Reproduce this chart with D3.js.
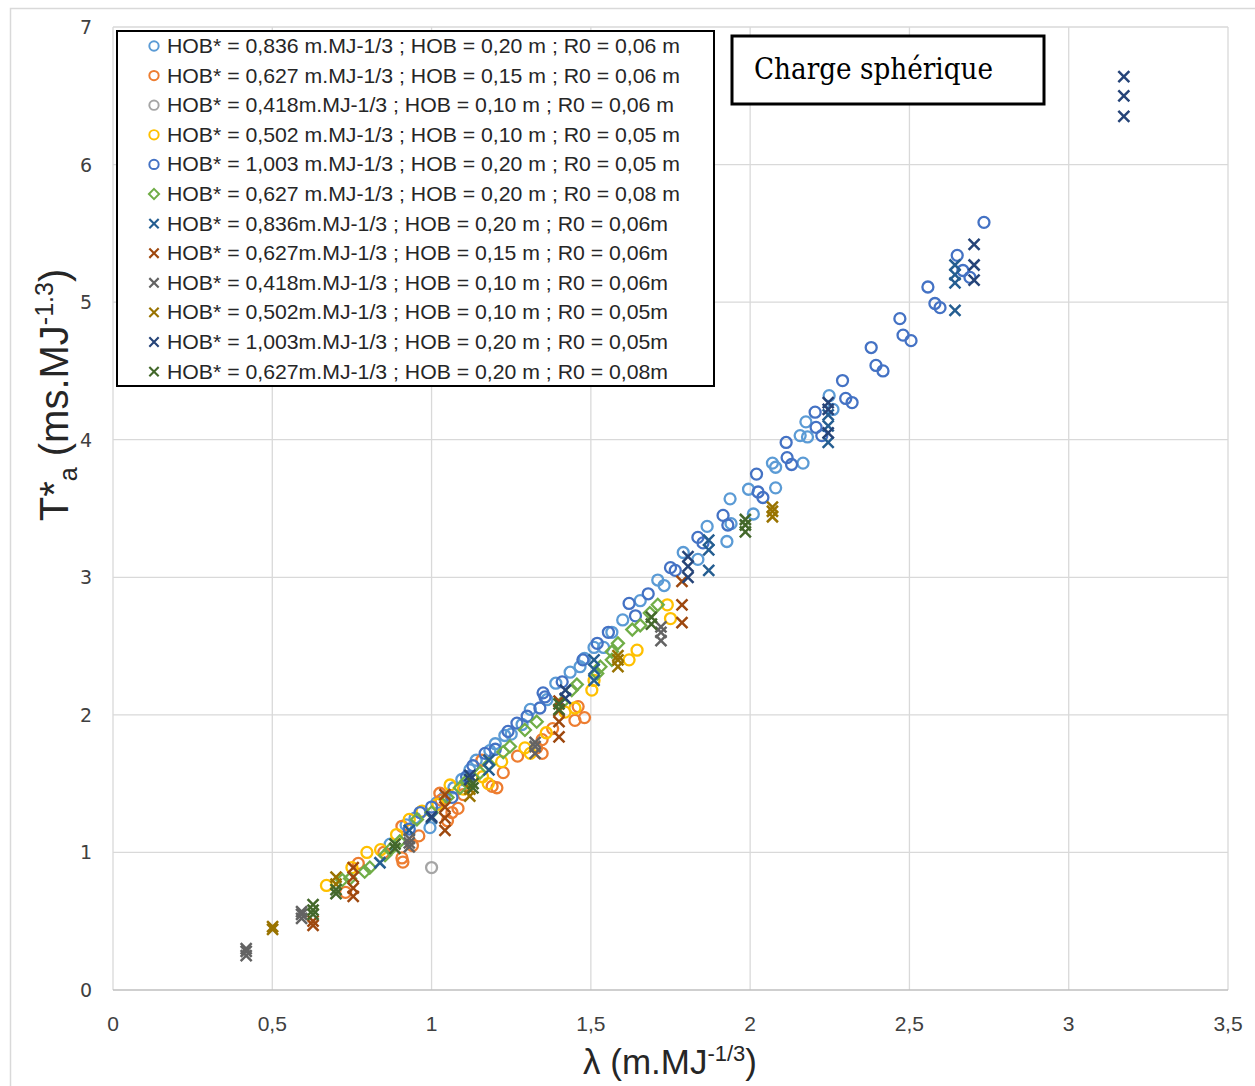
<!DOCTYPE html>
<html>
<head>
<meta charset="utf-8">
<script src="https://cdn.jsdelivr.net/npm/d3@7"></script>
<style>
  body { margin: 0; background: #fff; }
  svg { display: block; }
</style>
</head>
<body>
<svg id="chart" width="1255" height="1086"></svg>
<script>
// series values, [lambda, T*a]
const s1 = [[0.87,1.06],[0.92,1.2],[0.948,1.25],[0.995,1.18],[1.016,1.36],[1.04,1.40],[1.07,1.47],[1.095,1.53],[1.12,1.60],[1.14,1.67],[1.183,1.74],[1.2,1.79],[1.23,1.85],[1.25,1.86],[1.284,1.93],[1.31,2.04],[1.362,2.11],[1.39,2.23],[1.435,2.31],[1.466,2.35],[1.48,2.41],[1.51,2.49],[1.54,2.49],[1.566,2.60],[1.60,2.69],[1.655,2.83],[1.71,2.98],[1.73,2.94],[1.79,3.18],[1.836,3.13],[1.865,3.37],[1.927,3.26],[1.937,3.57],[1.94,3.39],[1.995,3.64],[2.01,3.46],[2.07,3.83],[2.08,3.80],[2.08,3.65],[2.166,3.83],[2.175,4.13],[2.157,4.03],[2.18,4.02],[2.248,4.32],[2.26,4.22]];
const s2 = [[0.73,0.71],[0.77,0.92],[0.85,1.0],[0.907,0.96],[0.91,0.93],[0.94,1.05],[0.96,1.12],[0.907,1.19],[1.026,1.43],[1.03,1.38],[1.05,1.23],[1.064,1.29],[1.083,1.32],[1.1,1.42],[1.158,1.67],[1.19,1.48],[1.205,1.47],[1.225,1.58],[1.27,1.70],[1.33,1.76],[1.347,1.82],[1.347,1.72],[1.38,1.90],[1.45,1.96],[1.46,2.06],[1.48,1.98]];
const s3 = [[1.0,0.89]];
const s4 = [[0.67,0.76],[0.75,0.89],[0.797,1.0],[0.84,1.02],[0.89,1.13],[0.93,1.24],[0.97,1.30],[1.02,1.35],[1.058,1.49],[1.1,1.46],[1.16,1.55],[1.178,1.50],[1.22,1.66],[1.293,1.76],[1.31,1.72],[1.36,1.87],[1.419,2.02],[1.45,2.05],[1.503,2.18],[1.51,2.25],[1.62,2.40],[1.645,2.47],[1.74,2.80],[1.75,2.70]];
const s5 = [[0.93,1.17],[0.964,1.29],[1.0,1.33],[1.064,1.40],[1.11,1.55],[1.13,1.63],[1.168,1.72],[1.2,1.75],[1.24,1.88],[1.268,1.94],[1.3,1.99],[1.34,2.05],[1.35,2.16],[1.356,2.13],[1.41,2.24],[1.475,2.40],[1.52,2.52],[1.555,2.60],[1.62,2.81],[1.64,2.72],[1.68,2.88],[1.75,3.07],[1.765,3.05],[1.836,3.29],[1.852,3.25],[1.915,3.45],[1.93,3.38],[2.02,3.75],[2.025,3.62],[2.04,3.58],[2.113,3.98],[2.116,3.87],[2.13,3.82],[2.204,4.20],[2.207,4.09],[2.225,4.03],[2.29,4.43],[2.30,4.30],[2.32,4.27],[2.38,4.67],[2.395,4.54],[2.417,4.50],[2.47,4.88],[2.48,4.76],[2.505,4.72],[2.558,5.11],[2.58,4.99],[2.596,4.96],[2.65,5.34],[2.668,5.23],[2.69,5.18],[2.734,5.58]];
const s6 = [[0.72,0.80],[0.744,0.81],[0.79,0.86],[0.806,0.89],[0.854,0.98],[0.87,1.02],[0.9,1.08],[0.954,1.24],[1.0,1.29],[1.05,1.40],[1.089,1.47],[1.11,1.52],[1.152,1.58],[1.18,1.64],[1.225,1.73],[1.246,1.77],[1.293,1.89],[1.33,1.95],[1.41,2.09],[1.44,2.18],[1.456,2.22],[1.52,2.30],[1.53,2.35],[1.566,2.40],[1.566,2.46],[1.585,2.52],[1.63,2.62],[1.655,2.65],[1.685,2.74],[1.71,2.80]];
const s7 = [[0.838,0.925],[0.93,1.16],[1.0,1.25],[1.18,1.60],[1.18,1.67],[1.51,2.25],[1.51,2.33],[1.51,2.40],[1.87,3.05],[1.87,3.20],[1.87,3.27],[2.245,3.98],[2.245,4.10],[2.245,4.18],[2.643,4.94],[2.643,5.14],[2.643,5.20],[2.643,5.27]];
const s8 = [[0.628,0.47],[0.628,0.50],[0.754,0.68],[0.754,0.74],[0.754,0.82],[0.754,0.89],[1.042,1.16],[1.042,1.25],[1.042,1.33],[1.042,1.42],[1.40,1.84],[1.40,1.95],[1.40,2.03],[1.40,2.10],[1.786,2.67],[1.786,2.80],[1.786,2.97]];
const s9 = [[0.418,0.25],[0.418,0.28],[0.418,0.30],[0.592,0.52],[0.592,0.55],[0.592,0.57],[0.93,1.04],[0.93,1.07],[0.93,1.10],[1.325,1.72],[1.325,1.77],[1.325,1.80],[1.72,2.54],[1.72,2.60],[1.72,2.64]];
const s10 = [[0.501,0.44],[0.501,0.46],[0.70,0.77],[0.70,0.82],[1.12,1.41],[1.12,1.46],[1.585,2.35],[1.585,2.40],[1.585,2.43],[2.07,3.44],[2.07,3.48],[2.07,3.51]];
const s11 = [[1.0,1.26],[1.12,1.53],[1.12,1.56],[1.42,2.12],[1.42,2.18],[1.805,3.0],[1.805,3.08],[1.805,3.15],[2.245,4.05],[2.245,4.22],[2.245,4.27],[2.703,5.16],[2.703,5.27],[2.703,5.42],[3.173,6.35],[3.173,6.50],[3.173,6.64]];
const s12 = [[0.628,0.55],[0.628,0.58],[0.628,0.62],[0.70,0.70],[0.70,0.73],[0.885,1.03],[0.885,1.06],[1.13,1.47],[1.13,1.50],[1.40,2.04],[1.40,2.08],[1.69,2.66],[1.69,2.71],[1.985,3.33],[1.985,3.38],[1.985,3.42]];

const seriesNames = [
  "HOB* = 0,836 m.MJ-1/3 ; HOB = 0,20 m ; R0 = 0,06 m",
  "HOB* = 0,627 m.MJ-1/3 ; HOB = 0,15 m ; R0 = 0,06 m",
  "HOB* = 0,418m.MJ-1/3 ; HOB = 0,10 m ; R0 = 0,06 m",
  "HOB* = 0,502 m.MJ-1/3 ; HOB = 0,10 m ; R0 = 0,05 m",
  "HOB* = 1,003 m.MJ-1/3 ; HOB = 0,20 m ; R0 = 0,05 m",
  "HOB* = 0,627 m.MJ-1/3 ; HOB = 0,20 m ; R0 = 0,08 m",
  "HOB* = 0,836m.MJ-1/3 ; HOB = 0,20 m ; R0 = 0,06m",
  "HOB* = 0,627m.MJ-1/3 ; HOB = 0,15 m ; R0 = 0,06m",
  "HOB* = 0,418m.MJ-1/3 ; HOB = 0,10 m ; R0 = 0,06m",
  "HOB* = 0,502m.MJ-1/3 ; HOB = 0,10 m ; R0 = 0,05m",
  "HOB* = 1,003m.MJ-1/3 ; HOB = 0,20 m ; R0 = 0,05m",
  "HOB* = 0,627m.MJ-1/3 ; HOB = 0,20 m ; R0 = 0,08m"
];
const seriesData = [s1, s2, s3, s4, s5, s6, s7, s8, s9, s10, s11, s12];
const seriesColors = ["#5B9BD5","#ED7D31","#A5A5A5","#FFC000","#4472C4","#70AD47",
                      "#255E91","#9E480E","#636363","#997300","#264478","#43682B"];
const seriesShapes = ["circle","circle","circle","circle","circle","diamond",
                      "cross","cross","cross","cross","cross","cross"];
const legendEnds = [680, 680, 674, 680, 680, 680, 668, 668, 668, 668, 668, 668];

const xTicks = [0, 0.5, 1, 1.5, 2, 2.5, 3, 3.5];
const yTicks = [0, 1, 2, 3, 4, 5, 6, 7];
const fmt = v => String(v).replace(".", ",");

const svg = d3.select("#chart");
const x = d3.scaleLinear().domain([0, 3.5]).range([113, 1228]);
const y = d3.scaleLinear().domain([0, 7]).range([990, 27]);

// chart area border
svg.append("rect").attr("x", 10.5).attr("y", 8.5).attr("width", 1260).attr("height", 1090)
  .attr("fill", "none").attr("stroke", "#D9D9D9").attr("stroke-width", 1.5);

// grid
svg.append("g").selectAll("line").data(xTicks).enter().append("line")
  .attr("x1", d => x(d)).attr("x2", d => x(d)).attr("y1", y(7)).attr("y2", y(0))
  .attr("stroke", "#D9D9D9").attr("stroke-width", 1.3);
svg.append("g").selectAll("line").data(yTicks).enter().append("line")
  .attr("x1", x(0)).attr("x2", x(3.5)).attr("y1", d => y(d)).attr("y2", d => y(d))
  .attr("stroke", d => d === 0 ? "#BFBFBF" : "#D9D9D9").attr("stroke-width", 1.3);

// tick labels
svg.append("g").selectAll("text").data(yTicks).enter().append("text")
  .attr("x", 92).attr("y", d => y(d) + 7)
  .attr("text-anchor", "end")
  .attr("font-family", "DejaVu Sans").attr("font-size", 19).attr("fill", "#404040")
  .text(d => fmt(d));
svg.append("g").selectAll("text").data(xTicks).enter().append("text")
  .attr("x", d => x(d)).attr("y", 1031)
  .attr("text-anchor", "middle")
  .attr("font-family", "Liberation Sans Narrow, Liberation Sans").attr("font-size", 21)
  .attr("fill", "#404040")
  .text(d => fmt(d));

// axis titles
const xt = svg.append("text").attr("x", 670).attr("y", 1074).attr("text-anchor", "middle")
  .attr("font-family", "Liberation Sans Narrow, Liberation Sans").attr("font-size", 35).attr("fill", "#262626");
xt.append("tspan").text("λ (m.MJ");
xt.append("tspan").attr("dy", -13).attr("font-size", 22).text("-1/3");
xt.append("tspan").attr("dy", 13).text(")");

const yt = svg.append("text").attr("transform", "translate(68,395) rotate(-90)")
  .attr("text-anchor", "middle")
  .attr("font-family", "Liberation Sans Narrow, Liberation Sans").attr("font-size", 40).attr("fill", "#262626");
yt.append("tspan").text("T*");
yt.append("tspan").attr("dy", 9).attr("font-size", 25).text("a");
yt.append("tspan").attr("dy", -9).text(" (ms.MJ");
yt.append("tspan").attr("dy", -15).attr("font-size", 25).text("-1.3");
yt.append("tspan").attr("dy", 15).text(")");

// markers
function drawMarker(g, shape, color) {
  if (shape === "circle") {
    g.append("circle").attr("r", 5.5).attr("fill", "none")
      .attr("stroke", color).attr("stroke-width", 2.3);
  } else if (shape === "diamond") {
    g.append("path").attr("d", "M0,-6L6,0L0,6L-6,0Z").attr("fill", "none")
      .attr("stroke", color).attr("stroke-width", 2.3);
  } else {
    g.append("path").attr("d", "M-5.5,-5.5L5.5,5.5M-5.5,5.5L5.5,-5.5").attr("fill", "none")
      .attr("stroke", color).attr("stroke-width", 2.5);
  }
}

seriesData.forEach((data, i) => {
  const grp = svg.append("g").attr("class", "series" + (i + 1));
  grp.selectAll("g").data(data).enter().append("g")
    .attr("transform", d => `translate(${x(d[0])},${y(d[1])})`)
    .each(function () { drawMarker(d3.select(this), seriesShapes[i], seriesColors[i]); });
});

// legend
const legend = svg.append("g");
legend.append("rect").attr("x", 117).attr("y", 31).attr("width", 597).attr("height", 355)
  .attr("fill", "#fff").attr("stroke", "#000").attr("stroke-width", 2);
seriesNames.forEach((name, i) => {
  const cy = 46 + i * 29.6;
  const g = legend.append("g").attr("transform", `translate(154,${cy}) scale(0.85)`);
  drawMarker(g, seriesShapes[i], seriesColors[i]);
  legend.append("text").attr("x", 167).attr("y", cy + 7)
    .attr("font-family", "Liberation Sans Narrow, Liberation Sans").attr("font-size", 21)
    .attr("fill", "#262626")
    .attr("textLength", legendEnds[i] - 167).attr("lengthAdjust", "spacingAndGlyphs")
    .text(name);
});

// title box
svg.append("rect").attr("x", 732).attr("y", 36).attr("width", 312).attr("height", 68)
  .attr("fill", "#fff").attr("stroke", "#000").attr("stroke-width", 3);
svg.append("text").attr("x", 754).attr("y", 79)
  .attr("font-family", "DejaVu Serif").attr("font-size", 29).attr("fill", "#000")
  .attr("textLength", 239).attr("lengthAdjust", "spacingAndGlyphs")
  .text("Charge sphérique");
</script>
</body>
</html>
